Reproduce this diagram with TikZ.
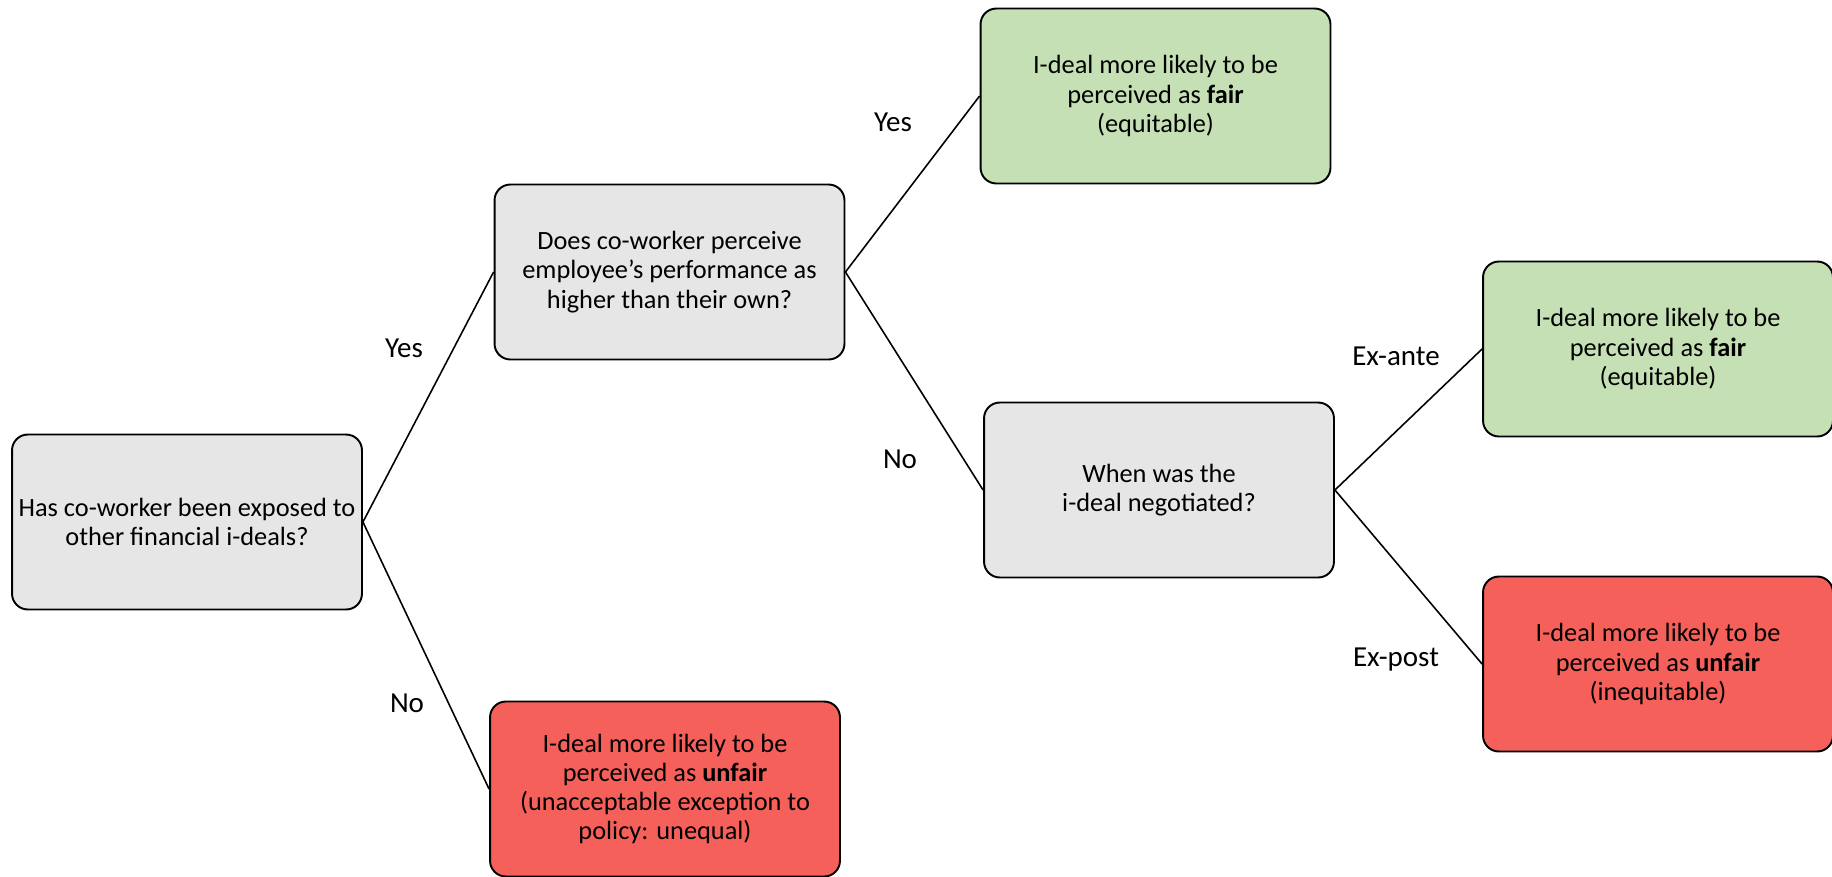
\documentclass[tikz,border=0pt]{standalone}
\usepackage{fontspec}
\setmainfont{Carlito}
\definecolor{askgrey}{HTML}{E6E6E6}
\definecolor{fairgreen}{HTML}{C5E0B4}
\definecolor{unfairred}{HTML}{F6605B}
\begin{document}
\begin{tikzpicture}
		[x=0.02cm,y=-0.02cm,
		font=\fontsize{15}{16.6}\selectfont,
		question/.style={rectangle,rounded corners=9pt,draw=black,fill=askgrey,line width=1.1pt,
align=center,inner sep=2pt,minimum width=7cm,minimum height=3.5cm},
		fairbox/.style={question,fill=fairgreen},
		unfairbox/.style={question,fill=unfairred},
		textstyle/.style={font=\fontsize{16.5}{18}\selectfont},
		edgestyle/.style={-,line width=0.9pt}]
		\useasboundingbox (0,0) rectangle (1832,876);
		\node at (187, 522) (root) [question] {Has co-worker been exposed to\\other financial i-deals?};
		\node at (669.5, 272) (perf) [question] {Does co-worker perceive\\employee’s performance as\\higher than their own?};
		\node at (665, 789) (unfair1) [unfairbox] {I-deal more likely to be\\perceived as \textbf{unfair}\\(unacceptable exception to\\policy: unequal)};
		\node at (1155.5, 96) (fair1) [fairbox] {I-deal more likely to be\\perceived as \textbf{fair}\\(equitable)};
		\node at (1159, 490) (when) [question] {When was the\\i-deal negotiated?};
		\node at (1658, 349) (fair2) [fairbox] {I-deal more likely to be\\perceived as \textbf{fair}\\(equitable)};
		\node at (1658, 664) (unfair2) [unfairbox] {I-deal more likely to be\\perceived as \textbf{unfair}\\(inequitable)};
		\draw[edgestyle] (root.east) -- (perf.west);
		\draw[edgestyle] (root.east) -- (unfair1.west);
		\draw[edgestyle] (perf.east) -- (fair1.west);
		\draw[edgestyle] (perf.east) -- (when.west);
		\draw[edgestyle] (when.east) -- (fair2.west);
		\draw[edgestyle] (when.east) -- (unfair2.west);
		\node at (404, 348) (yes1) [textstyle] {Yes};
		\node at (407, 703) (no1) [textstyle] {No};
		\node at (893, 122) (yes2) [textstyle] {Yes};
		\node at (900, 459) (no2) [textstyle] {No};
		\node at (1396, 356) (exante) [textstyle] {Ex-ante};
		\node at (1396, 660) (expost) [textstyle] {Ex-post};
	\end{tikzpicture}
\end{document}
